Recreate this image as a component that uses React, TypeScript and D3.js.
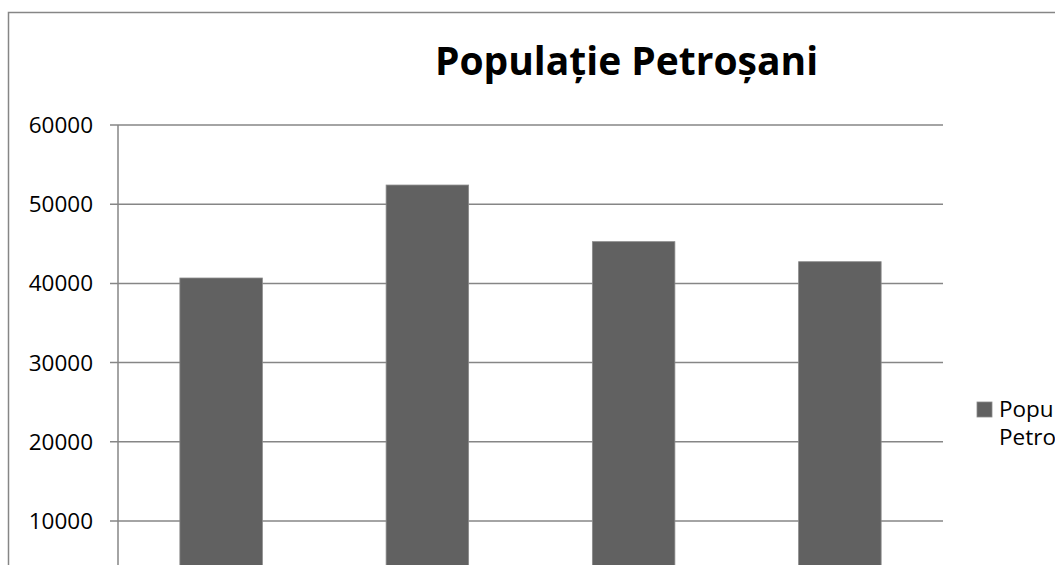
import React, { useEffect, useRef } from 'react';
import * as d3 from 'd3';

// values
const categories = ['1977', '1992', '2002', '2011'];
const populationValues = [40680, 52420, 45270, 42740];
const yTickValues = [0, 10000, 20000, 30000, 40000, 50000, 60000];
const seriesName = 'Populație Petroșani';
const chartTitle = 'Populație Petroșani';

const font = '"Open Sans", "Noto Sans", sans-serif';
const VIEW_H = 565;

const App = () => {
  const ref = useRef<SVGSVGElement | null>(null);

  useEffect(() => {
    const svg = d3.select(ref.current);
    svg.selectAll('*').remove();

    const plot = { left: 118, right: 943, top: 125, bottom: 600.2 };
    const grid = '#868686';

    const x = d3
      .scaleBand()
      .domain(categories)
      .range([plot.left, plot.right])
      .paddingInner(0.6)
      .paddingOuter(0.3);

    const y = d3.scaleLinear().domain([0, 60000]).range([plot.bottom, plot.top]);

    // only the ticks that fall inside the visible window (chart is cropped at the bottom)
    const visibleTicks = yTickValues.filter(d => y(d) < VIEW_H - 10);

    // chart border
    svg
      .append('rect')
      .attr('x', 8.5)
      .attr('y', 12.5)
      .attr('width', 1300)
      .attr('height', 800)
      .attr('fill', '#fff')
      .attr('stroke', grid)
      .attr('stroke-width', 1.5);

    // gridlines + tick marks + labels
    const ticks = svg.append('g');
    ticks
      .selectAll('line.grid')
      .data(visibleTicks)
      .enter()
      .append('line')
      .attr('class', 'grid')
      .attr('x1', plot.left - 8)
      .attr('x2', plot.right)
      .attr('y1', d => y(d))
      .attr('y2', d => y(d))
      .attr('stroke', grid)
      .attr('stroke-width', 1.5);

    ticks
      .selectAll('text')
      .data(visibleTicks)
      .enter()
      .append('text')
      .attr('x', 93)
      .attr('y', d => y(d) + 8)
      .attr('text-anchor', 'end')
      .attr('font-family', font)
      .attr('font-size', 22.5)
      .attr('fill', '#000')
      .text(d => String(d));

    // y axis
    svg
      .append('line')
      .attr('x1', plot.left)
      .attr('x2', plot.left)
      .attr('y1', plot.top)
      .attr('y2', plot.bottom)
      .attr('stroke', grid)
      .attr('stroke-width', 1.5);

    // bars
    svg
      .selectAll('.bar')
      .data(populationValues)
      .enter()
      .append('rect')
      .attr('class', 'bar')
      .attr('x', (d, i) => x(categories[i]) as number)
      .attr('y', d => y(d))
      .attr('width', x.bandwidth())
      .attr('height', d => plot.bottom - y(d))
      .attr('fill', '#616161')
      .attr('stroke', '#8a8a8a')
      .attr('stroke-width', 0.8);

    // title
    svg
      .append('text')
      .attr('x', 626.5)
      .attr('y', 75)
      .attr('text-anchor', 'middle')
      .attr('font-family', font)
      .attr('font-weight', 'bold')
      .attr('font-size', 39)
      .attr('fill', '#000')
      .text(chartTitle);

    // legend
    const legend = svg.append('g');
    legend
      .append('rect')
      .attr('x', 977)
      .attr('y', 402)
      .attr('width', 15)
      .attr('height', 15)
      .attr('fill', '#616161')
      .attr('stroke', '#8a8a8a')
      .attr('stroke-width', 0.8);
    const words = seriesName.split(' ');
    legend
      .selectAll('text')
      .data(words)
      .enter()
      .append('text')
      .attr('x', 999)
      .attr('y', (d, i) => 417 + i * 28)
      .attr('font-family', font)
      .attr('font-size', 22.5)
      .attr('fill', '#000')
      .text(d => d);
  }, []);

  return (
    <div style={{ position: 'absolute', left: 0, top: 0 }}>
      <svg ref={ref} width={1055} height={VIEW_H} style={{ display: 'block' }} />
    </div>
  );
};

export default App;
